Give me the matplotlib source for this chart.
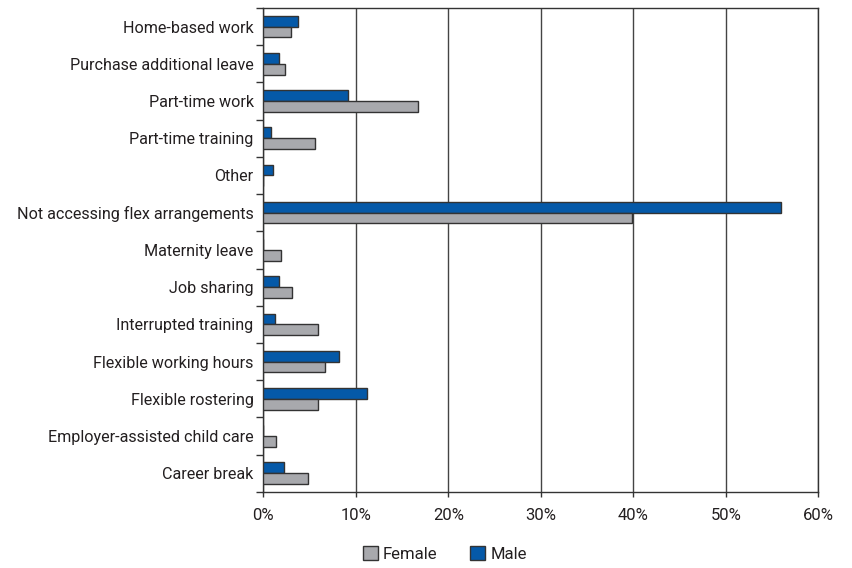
import numpy as np
import matplotlib
matplotlib.use("Agg")
import matplotlib.pyplot as plt
from matplotlib.patches import Patch

plt.rcParams['font.family'] = ['Roboto', 'DejaVu Sans']

# categories listed top to bottom
categories = [
    'Home-based work',
    'Purchase additional leave',
    'Part-time work',
    'Part-time training',
    'Other',
    'Not accessing flex arrangements',
    'Maternity leave',
    'Job sharing',
    'Interrupted training',
    'Flexible working hours',
    'Flexible rostering',
    'Employer-assisted child care',
    'Career break',
]
male = [3.8, 1.7, 9.2, 0.8, 1.1, 56.0, 0.0, 1.7, 1.3, 8.2, 11.2, 0.0, 2.2]
female = [3.05, 2.4, 16.7, 5.6, 0.0, 39.9, 1.9, 3.1, 5.9, 6.7, 5.9, 1.4, 4.8]
x_ticks = [0, 10, 20, 30, 40, 50, 60]

blue = '#0559A8'
grey = '#A8A9AD'
edge = '#333333'
text_col = '#231F20'

fig = plt.figure(figsize=(8.52, 5.68), dpi=100)
ax = fig.add_axes([0.309, 0.134, 0.6515, 0.852])

n = len(categories)
pos = np.arange(n)
h = 0.29

# male on top, female below within each category
ax.barh(pos - h / 2, male, height=h, color=blue, edgecolor=edge, linewidth=1.0,
        zorder=3)
ax.barh(pos + h / 2, female, height=h, color=grey, edgecolor=edge, linewidth=1.0,
        zorder=3)

ax.set_ylim(n - 0.5, -0.5)
ax.set_xlim(0, 60)

ax.set_xticks(x_ticks)
ax.set_xticklabels([f'{t}%' for t in x_ticks])
ax.set_yticks(pos)
ax.set_yticklabels(categories)
ax.set_yticks(np.arange(n + 1) - 0.5, minor=True)

ax.tick_params(axis='y', which='major', length=0, pad=7, labelsize=11.6,
               labelcolor=text_col)
ax.tick_params(axis='y', which='minor', length=5, width=1, color=edge)
ax.tick_params(axis='x', which='major', length=3.5, width=1, color=edge,
               labelsize=12, labelcolor=text_col, pad=8)

ax.grid(axis='x', color='#444444', linewidth=1, zorder=0)
for s in ax.spines.values():
    s.set_color(edge)
    s.set_linewidth(1)

legend_elements = [
    Patch(facecolor=grey, edgecolor=edge, label='Female'),
    Patch(facecolor=blue, edgecolor=edge, label='Male'),
]
fig.legend(handles=legend_elements, loc='center', bbox_to_anchor=(0.522, 0.025),
           ncol=2, frameon=False, fontsize=12, handlelength=0.9,
           handleheight=0.9, handletextpad=0.3, columnspacing=2.0,
           labelcolor=text_col)

fig.savefig('out.png', dpi=100)
